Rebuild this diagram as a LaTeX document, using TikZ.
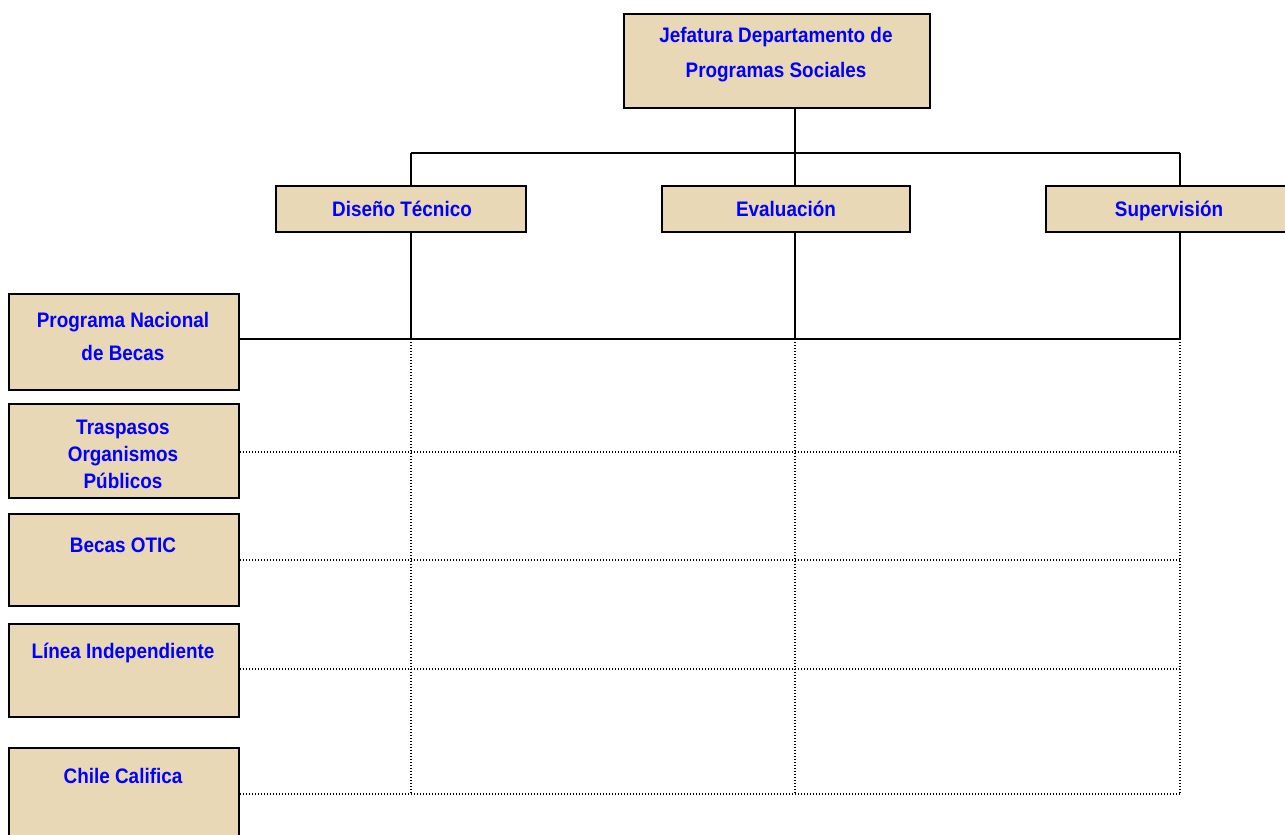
\documentclass[tikz,border=0pt]{standalone}
\usepackage{fontspec}
\newfontfamily\orgfont{Liberation Sans}[FakeStretch=0.9]
\definecolor{parch}{RGB}{232,216,181}
\definecolor{orgblue}{RGB}{0,0,255}
\begin{document}
\begin{tikzpicture}[x=1pt,y=-1pt,
  orgbox/.style={draw=black, line width=1.8pt, fill=parch, rectangle, inner sep=0pt, anchor=north west},
  orgtext/.style={text=orgblue, font=\orgfont\bfseries\fontsize{21}{35}\selectfont, align=center, inner sep=0pt},
  link/.style={draw=black, line width=1.5pt},
  grid/.style={draw=black, line width=1.4pt, dash pattern=on 1.4pt off 1.6pt}]
\useasboundingbox (0,0) rectangle (1285,835);
\clip (0,0) rectangle (1285,835);

% boxes
\node[orgbox, minimum width=306pt, minimum height=94pt] (jef) at (623,13) {};
\node[orgbox, minimum width=250pt, minimum height=46pt] (dis) at (275,185) {};
\node[orgbox, minimum width=248pt, minimum height=46pt] (eva) at (661,185) {};
\node[orgbox, minimum width=250pt, minimum height=46pt] (sup) at (1045,185) {};
\node[orgbox, minimum width=230pt, minimum height=96pt] (pnb) at (8,293) {};
\node[orgbox, minimum width=230pt, minimum height=94pt] (tra) at (8,403) {};
\node[orgbox, minimum width=230pt, minimum height=92pt] (bot) at (8,513) {};
\node[orgbox, minimum width=230pt, minimum height=93pt] (lin) at (8,623) {};
\node[orgbox, minimum width=230pt, minimum height=100pt] (chc) at (8,747) {};

% labels
\node[orgtext] (jef-t) at (776,55) {Jefatura Departamento de\\Programas Sociales};
\node[orgtext] (dis-t) at (402,209) {Diseño Técnico};
\node[orgtext] (eva-t) at (786,209) {Evaluación};
\node[orgtext] (sup-t) at (1169,211) {Supervisión};
\node[orgtext, font=\orgfont\bfseries\fontsize{21}{33}\selectfont] (pnb-t) at (123,336) {Programa Nacional\\de Becas};
\node[orgtext, font=\orgfont\bfseries\fontsize{21}{27}\selectfont] (tra-t) at (123,454) {Traspasos\\Organismos\\Públicos};
\node[orgtext] (bot-t) at (123,545) {Becas OTIC};
\node[orgtext] (lin-t) at (123,653) {Línea Independiente};
\node[orgtext] (chc-t) at (123,776) {Chile Califica};

% junction points
\coordinate (bar) at (795,153);
\coordinate (cd) at (411,339);
\coordinate (ce) at (795,339);
\coordinate (cs) at (1180,339);
\coordinate (rt) at (1180,452);
\coordinate (rb) at (1180,560);
\coordinate (rl) at (1180,669);
\coordinate (rc) at (1180,794);

% dotted matrix
\draw[grid] (cd) -- (cd |- rc);
\draw[grid] (ce) -- (ce |- rc);
\draw[grid] (cs) -- (rc);
\draw[grid] (tra.east |- rt) -- (rt);
\draw[grid] (bot.east |- rb) -- (rb);
\draw[grid] (lin.east |- rl) -- (rl);
\draw[grid] (chc.east |- rc) -- (rc);

% solid hierarchy
\draw[link] (jef.south -| bar) -- (bar);
\draw[link] (cd |- bar) -- (cs |- bar);
\draw[link] (cd |- bar) -- (cd |- dis.north);
\draw[link] (bar) -- (ce |- eva.north);
\draw[link] (cs |- bar) -- (cs |- sup.north);
\draw[link] (cd |- dis.south) -- (cd);
\draw[link] (ce |- eva.south) -- (ce);
\draw[link] (cs |- sup.south) -- (cs);
\draw[link] (pnb.east |- cd) -- (cs);
\end{tikzpicture}
\end{document}
